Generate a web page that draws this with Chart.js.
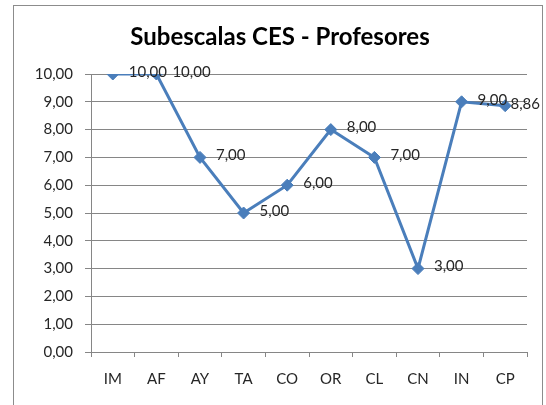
<!DOCTYPE html>
<html>
<head>
<meta charset="utf-8">
<script src="https://cdn.jsdelivr.net/npm/chart.js@4"></script>
<style>
  html, body { margin: 0; padding: 0; background: #fff; }
  #wrap { width: 546px; height: 405px; }
</style>
</head>
<body>
<div id="wrap"><canvas id="chart" width="546" height="405"></canvas></div>
<script>
const categories = ["IM", "AF", "AY", "TA", "CO", "OR", "CL", "CN", "IN", "CP"];
const scores = [10, 10, 7, 5, 6, 8, 7, 3, 9, 8.86];
const titleText = "Subescalas CES - Profesores";

const fmt = v => Number(v).toFixed(2).replace(".", ",");

// excel-like outer frame
const framePlugin = {
  id: "frame",
  beforeDraw(chart) {
    const ctx = chart.ctx;
    ctx.save();
    ctx.fillStyle = "#fff";
    ctx.fillRect(0, 0, chart.width, chart.height);
    ctx.strokeStyle = "#8c8c8c";
    ctx.lineWidth = 1;
    ctx.strokeRect(13.5, 5.5, 529, 430);
    ctx.restore();
  }
};

// value labels to the right of each point, kept inside the frame
const valueLabels = {
  id: "valueLabels",
  afterDatasetsDraw(chart) {
    const ctx = chart.ctx;
    const meta = chart.getDatasetMeta(0);
    ctx.save();
    ctx.font = "15px Lato";
    ctx.fillStyle = "#262626";
    ctx.textAlign = "left";
    ctx.textBaseline = "middle";
    meta.data.forEach((pt, i) => {
      const txt = fmt(scores[i]);
      let x = pt.x + 16;
      const w = ctx.measureText(txt).width;
      if (x + w > 540) x = 540 - w;
      ctx.fillText(txt, x, pt.y - 2);
    });
    ctx.restore();
  }
};

new Chart(document.getElementById("chart"), {
  type: "line",
  data: {
    labels: categories,
    datasets: [{
      data: scores,
      borderColor: "#4A7EBB",
      backgroundColor: "#4A7EBB",
      borderWidth: 3,
      tension: 0,
      pointStyle: "rectRot",
      pointRadius: 6,
      pointBorderWidth: 1,
      pointBorderColor: "#4A7EBB"
    }]
  },
  options: {
    responsive: false,
    animation: false,
    layout: { padding: { left: 33, right: 19, top: 0, bottom: 0 } },
    plugins: {
      legend: { display: false },
      tooltip: { enabled: false },
      title: {
        display: true,
        text: titleText,
        color: "#000",
        font: { family: "Lato", size: 24, weight: "bold" },
        padding: { top: 23, bottom: 22.2 }
      }
    },
    scales: {
      x: {
        offset: true,
        grid: { offset: true, drawOnChartArea: false, color: "#868686", tickLength: 5 },
        border: { color: "#868686" },
        ticks: { color: "#262626", font: { family: "Lato", size: 15 }, padding: 13, maxRotation: 0 },
        afterFit: s => { s.height = 53; }
      },
      y: {
        min: 0,
        max: 10,
        grid: { color: "#868686", tickLength: 6 },
        border: { color: "#868686" },
        ticks: {
          stepSize: 1,
          color: "#262626",
          font: { family: "Lato", size: 15 },
          padding: 12,
          callback: v => fmt(v)
        },
        afterFit: s => { s.width = 58; }
      }
    }
  },
  plugins: [framePlugin, valueLabels]
});
</script>
</body>
</html>
